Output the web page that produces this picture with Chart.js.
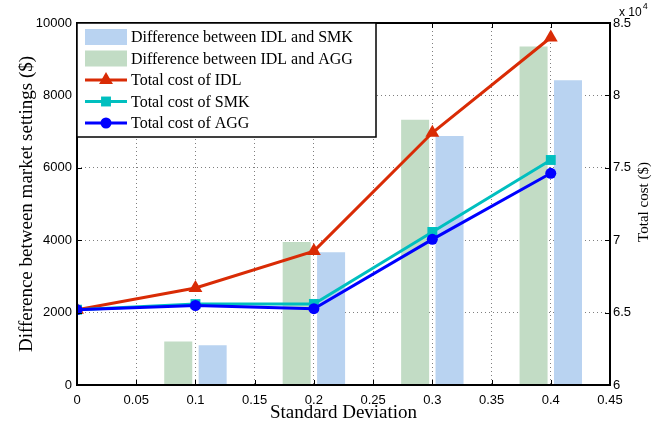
<!DOCTYPE html>
<html>
<head>
<meta charset="utf-8">
<script src="https://cdn.jsdelivr.net/npm/chart.js@4.4.0/dist/chart.umd.min.js"></script>
<style>
html, body { margin: 0; padding: 0; background: #fff; }
#wrap { position: relative; width: 653px; height: 430px; }
</style>
</head>
<body>
<div id="wrap"><canvas id="costChart" width="653" height="430"></canvas></div>
<script>
// ------------------------------------------------------------
// data
// ------------------------------------------------------------
var sd      = [0, 0.1, 0.2, 0.3, 0.4];
var diffSMK = [0, 1100, 3670, 6880, 8420];
var diffAGG = [0, 1200, 3950, 7330, 9350];
var costIDL = [65200, 66700, 69250, 77420, 84000];
var costSMK = [65200, 65590, 65600, 70570, 75540];
var costAGG = [65200, 65490, 65270, 70060, 74620];
var xTickLabels  = ['0', '0.05', '0.1', '0.15', '0.2', '0.25', '0.3', '0.35', '0.4', '0.45'];
var yTickLabels  = ['0', '2000', '4000', '6000', '8000', '10000'];
var y2TickLabels = ['6', '6.5', '7', '7.5', '8', '8.5'];

var SERIF = '"Liberation Serif", "Times New Roman", serif';
var SANS  = '"Liberation Sans", Arial, sans-serif';

function pts(ys) {
  return sd.map(function(x, i) { return { x: x, y: ys[i] }; });
}

var gridOpts = { color: 'rgba(0,0,0,0.5)', lineWidth: 1, drawTicks: false, borderDash: [1, 3] };
var borderOpts = { display: false, dash: [1, 3] };

// inward ticks, frame, legend and titles
var framePlugin = {
  id: 'frame',
  afterDraw: function(chart) {
    var ctx = chart.ctx, a = chart.chartArea;
    var sx = chart.scales.x, sy = chart.scales.y, sy2 = chart.scales.y2;
    ctx.save();

    ctx.strokeStyle = '#000';
    ctx.lineWidth = 1;
    ctx.beginPath();
    sx.ticks.forEach(function(t) {
      var px = Math.round(sx.getPixelForValue(t.value)) + 0.5;
      ctx.moveTo(px, a.bottom); ctx.lineTo(px, a.bottom - 5);
      ctx.moveTo(px, a.top);    ctx.lineTo(px, a.top + 5);
    });
    sy.ticks.forEach(function(t) {
      var py = Math.round(sy.getPixelForValue(t.value)) + 0.5;
      ctx.moveTo(a.left, py); ctx.lineTo(a.left + 5, py);
    });
    sy2.ticks.forEach(function(t) {
      var py = Math.round(sy2.getPixelForValue(t.value)) + 0.5;
      ctx.moveTo(a.right, py); ctx.lineTo(a.right - 5, py);
    });
    ctx.stroke();

    ctx.lineWidth = 2;
    ctx.strokeRect(a.left, a.top, a.right - a.left, a.bottom - a.top);

    // legend box (top-left, inside the plot)
    var lx = a.left, ly = a.top, lw = 299, lh = 114;
    ctx.fillStyle = '#fff';
    ctx.fillRect(lx, ly, lw, lh);
    ctx.lineWidth = 1.5;
    ctx.strokeRect(lx, ly, lw, lh);

    var order = [4, 3, 2, 1, 0];
    ctx.font = '16px ' + SERIF;
    ctx.textBaseline = 'middle';
    ctx.textAlign = 'left';
    order.forEach(function(di, row) {
      var ds = chart.data.datasets[di];
      var cy = ly + 14 + row * 21.5;
      if (ds.type === 'bar') {
        ctx.fillStyle = ds.backgroundColor;
        ctx.fillRect(lx + 8, cy - 8, 42, 16);
      } else {
        ctx.strokeStyle = ds.borderColor;
        ctx.lineWidth = 3;
        ctx.beginPath();
        ctx.moveTo(lx + 8, cy); ctx.lineTo(lx + 50, cy);
        ctx.stroke();
        ctx.fillStyle = ds.pointBackgroundColor;
        Chart.helpers.drawPoint(ctx, { pointStyle: ds.pointStyle, radius: ds.pointRadius, rotation: 0, borderWidth: 0 }, lx + 29, cy);
      }
      ctx.fillStyle = '#000';
      ctx.fillText(ds.label, lx + 54, cy + 1);
    });

    // axis titles
    var midY = (a.top + a.bottom) / 2;
    ctx.fillStyle = '#000';
    ctx.textAlign = 'center';
    ctx.font = '19px ' + SERIF;
    ctx.fillText('Standard Deviation', (a.left + a.right) / 2, 413);

    ctx.save();
    ctx.translate(27, midY);
    ctx.rotate(-Math.PI / 2);
    ctx.fillText('Difference between market settings ($)', 0, 0);
    ctx.restore();

    ctx.save();
    ctx.translate(644, 202);
    ctx.rotate(-Math.PI / 2);
    ctx.font = '15px ' + SERIF;
    ctx.fillText('Total cost ($)', 0, 0);
    ctx.restore();

    // exponent label of the right axis
    ctx.textAlign = 'left';
    ctx.font = '12px ' + SANS;
    ctx.fillText('x 10', 619, 13);
    var w = ctx.measureText('x 10').width;
    ctx.font = '9px ' + SANS;
    ctx.fillText('4', 619 + w + 1, 7);

    ctx.restore();
  }
};

var ctx = document.getElementById('costChart').getContext('2d');
var chart = new Chart(ctx, {
  type: 'bar',
  data: {
    datasets: [
      {
        type: 'line', label: 'Total cost of AGG', data: pts(costAGG), yAxisID: 'y2',
        borderColor: '#0000ff', backgroundColor: '#0000ff', borderWidth: 3,
        pointStyle: 'circle', pointRadius: 5.5, pointBackgroundColor: '#0000ff', pointBorderWidth: 0
      },
      {
        type: 'line', label: 'Total cost of SMK', data: pts(costSMK), yAxisID: 'y2',
        borderColor: '#00bfbf', backgroundColor: '#00bfbf', borderWidth: 3,
        pointStyle: 'rect', pointRadius: 7, pointBackgroundColor: '#00bfbf', pointBorderWidth: 0
      },
      {
        type: 'line', label: 'Total cost of IDL', data: pts(costIDL), yAxisID: 'y2',
        borderColor: '#d92b05', backgroundColor: '#d92b05', borderWidth: 3,
        pointStyle: 'triangle', pointRadius: 8, pointBackgroundColor: '#d92b05', pointBorderWidth: 0
      },
      {
        type: 'bar', label: 'Difference between IDL and AGG', data: pts(diffAGG), yAxisID: 'y',
        backgroundColor: '#c2dcc5'
      },
      {
        type: 'bar', label: 'Difference between IDL and SMK', data: pts(diffSMK), yAxisID: 'y',
        backgroundColor: '#b9d3f1'
      }
    ]
  },
  options: {
    responsive: false,
    animation: false,
    events: [],
    layout: { padding: { top: 23, left: 0, right: 0, bottom: 0 } },
    plugins: { legend: { display: false }, tooltip: { enabled: false } },
    datasets: { bar: { categoryPercentage: 1.162, barPercentage: 0.814 } },
    scales: {
      x: {
        type: 'linear', min: 0, max: 0.45, offset: false,
        grid: Object.assign({ offset: false }, gridOpts), border: borderOpts,
        ticks: {
          stepSize: 0.05, padding: 8, maxRotation: 0, autoSkip: false, color: '#000',
          font: { family: SANS, size: 13 },
          callback: function(v) { return xTickLabels[Math.round(v / 0.05)]; }
        },
        afterFit: function(s) { s.height = 45; }
      },
      y: {
        position: 'left', min: 0, max: 10000,
        grid: gridOpts, border: borderOpts,
        ticks: {
          stepSize: 2000, padding: 5, color: '#000',
          font: { family: SANS, size: 13 },
          callback: function(v) { return yTickLabels[Math.round(v / 2000)]; }
        },
        afterFit: function(s) { s.width = 77; }
      },
      y2: {
        position: 'right', min: 60000, max: 85000,
        grid: { display: false, drawTicks: false }, border: { display: false },
        ticks: {
          stepSize: 5000, padding: 3, color: '#000',
          font: { family: SANS, size: 13 },
          callback: function(v) { return y2TickLabels[Math.round((v - 60000) / 5000)]; }
        },
        afterFit: function(s) { s.width = 43; }
      }
    }
  },
  plugins: [framePlugin]
});
</script>
</body>
</html>
